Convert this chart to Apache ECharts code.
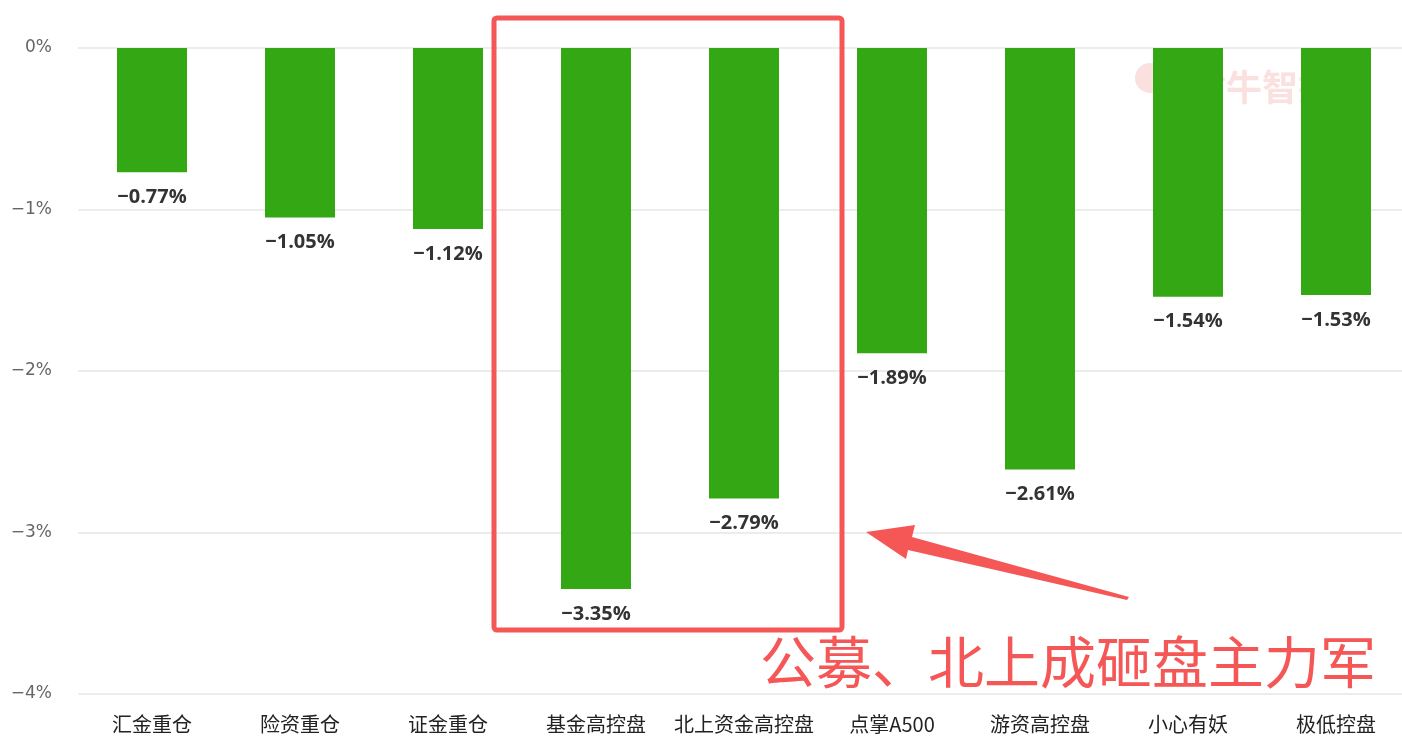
<!DOCTYPE html>
<html>
<head>
<meta charset="utf-8">
<script src="https://cdn.jsdelivr.net/npm/echarts@6/dist/echarts.min.js"></script>
<style>
html,body{margin:0;padding:0;background:#fff;}
#c{width:1402px;height:754px;}
</style>
</head>
<body>
<div id="c"></div>
<script>
const categories = ['汇金重仓','险资重仓','证金重仓','基金高控盘','北上资金高控盘','点掌A500','游资高控盘','小心有妖','极低控盘'];
const values = [-0.77, -1.05, -1.12, -3.35, -2.79, -1.89, -2.61, -1.54, -1.53];
const yTicks = [0, -1, -2, -3, -4];
const annotationText = '公募、北上成砸盘主力军';

function fmt(v, d) {
  const s = Math.abs(v).toFixed(d);
  return (v < 0 ? '\u2212' : '') + s + '%';
}

const chart = echarts.init(document.getElementById('c'));
chart.setOption({
  animation: false,
  backgroundColor: '#fff',
  grid: { left: 78, width: 1332, top: 48, bottom: 60, containLabel: false, outerBoundsMode: 'none' },
  xAxis: {
    type: 'category',
    data: categories,
    position: 'bottom',
    axisLine: { show: false, onZero: false },
    axisTick: { show: false },
    axisLabel: { color: '#222', fontSize: 20, margin: 20, fontFamily: 'Noto Sans CJK SC', interval: 0 }
  },
  yAxis: {
    type: 'value',
    min: Math.min(...yTicks),
    max: Math.max(...yTicks),
    interval: 1,
    axisLine: { show: false },
    axisTick: { show: false },
    splitLine: { lineStyle: { color: '#e6e6e6', width: 1.5 } },
    axisLabel: { color: '#666', fontSize: 17, margin: 26, fontFamily: 'DejaVu Sans', formatter: v => fmt(v, 0) }
  },
  graphic: [
    { type: 'circle', z: -10, shape: { cx: 1150, cy: 78, r: 15 }, style: { fill: 'rgba(240,130,130,0.25)' } },
    { type: 'text', z: -10, x: 1190, y: 87, style: { text: '财牛智投', fill: 'rgba(240,130,130,0.25)', font: 'bold 36px "Noto Sans CJK SC"', textVerticalAlign: 'middle' } },
    { type: 'rect', z: 100, shape: { x: 494, y: 18, width: 348, height: 612, r: 3 }, style: { fill: 'none', stroke: '#f55656', lineWidth: 5 } },
    { type: 'polygon', z: 100, shape: { points: [[866,532],[915,525],[912,537],[1129,597],[1127,600],[908,550],[906,559]] }, style: { fill: '#f55656' } },
    { type: 'text', z: 100, x: 760, y: 662, style: { text: annotationText, fill: '#f55656', font: '56px "Noto Sans CJK SC"', textVerticalAlign: 'middle' } }
  ],
  series: [{
    type: 'bar',
    data: values,
    barWidth: 70,
    itemStyle: { color: '#34a814' },
    label: {
      show: true,
      position: 'bottom',
      distance: 15,
      color: '#333',
      fontSize: 20,
      fontWeight: 'bold',
      fontFamily: 'Open Sans',
      formatter: p => fmt(p.value, 2)
    }
  }]
});
</script>
</body>
</html>
